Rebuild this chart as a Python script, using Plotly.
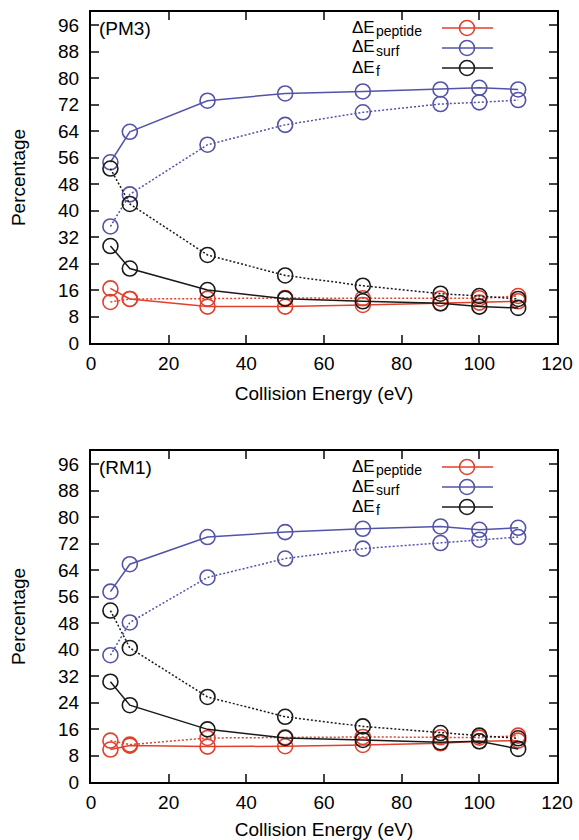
import plotly.graph_objects as go

# ---------------- data ----------------
energy = [5, 10, 30, 50, 70, 90, 100, 110]

pm3_peptide_solid = [16.5, 13.3, 11.0, 11.0, 11.5, 12.0, 12.2, 12.6]
pm3_peptide_dotted = [12.4, 13.3, 13.4, 13.6, 13.5, 13.4, 13.5, 14.2]
pm3_surf_solid = [54.6, 63.8, 73.2, 75.4, 76.0, 76.6, 77.1, 76.6]
pm3_surf_dotted = [35.2, 44.9, 59.9, 65.9, 69.7, 72.2, 72.7, 73.4]
pm3_f_solid = [29.3, 22.5, 16.0, 13.4, 12.6, 12.0, 11.0, 10.6]
pm3_f_dotted = [52.7, 42.0, 26.6, 20.4, 17.3, 14.9, 14.2, 13.3]

rm1_peptide_solid = [9.8, 11.0, 10.7, 10.8, 11.2, 11.7, 12.3, 12.5]
rm1_peptide_dotted = [12.5, 11.3, 13.3, 13.5, 13.6, 13.5, 13.4, 14.0]
rm1_surf_solid = [57.5, 65.8, 74.0, 75.5, 76.5, 77.2, 76.2, 76.8]
rm1_surf_dotted = [38.3, 48.2, 61.8, 67.5, 70.5, 72.2, 73.2, 74.0]
rm1_f_solid = [30.3, 23.2, 15.9, 13.3, 12.7, 12.0, 12.3, 10.0]
rm1_f_dotted = [51.8, 40.5, 25.7, 19.7, 16.8, 14.8, 14.0, 13.2]

panel_labels = ["(PM3)", "(RM1)"]
legend_main = "ΔE"
legend_subs = ["peptide", "surf", "f"]
x_ticks = [0, 20, 40, 60, 80, 100, 120]
y_ticks = [0, 8, 16, 24, 32, 40, 48, 56, 64, 72, 80, 88, 96]

RED = "#e2402c"
BLUE = "#5353a8"
BLACK = "#1a1a1a"
colors = [RED, BLUE, BLACK]
FONT = "Liberation Sans, Arial, Helvetica, sans-serif"

panels = [
    [(pm3_peptide_solid, pm3_peptide_dotted), (pm3_surf_solid, pm3_surf_dotted), (pm3_f_solid, pm3_f_dotted)],
    [(rm1_peptide_solid, rm1_peptide_dotted), (rm1_surf_solid, rm1_surf_dotted), (rm1_f_solid, rm1_f_dotted)],
]

fig = go.Figure()
for p, series in enumerate(panels):
    xa = "x" if p == 0 else "x2"
    ya = "y" if p == 0 else "y2"
    for (solid, dotted), c in zip(series, colors):
        for vals, dash in ((dotted, "2px,2px"), (solid, "solid")):
            fig.add_trace(go.Scatter(
                x=energy, y=vals, xaxis=xa, yaxis=ya, mode="lines+markers",
                line=dict(color=c, width=1.5, dash=dash),
                marker=dict(symbol="circle-open", size=15, color=c, line=dict(width=1.6, color=c)),
                showlegend=False, hoverinfo="skip",
            ))

W, H = 579, 840
ml, mr, mt, mb = 91, 22, 12, 58
plot_h = H - mt - mb
panel_h = 331
d_top = [(plot_h - panel_h) / plot_h, 1.0]
d_bot = [0.0, panel_h / plot_h]

def xaxis(anchor):
    return dict(anchor=anchor, range=[0, 120], tickvals=x_ticks, ticks="inside", ticklen=8, tickwidth=2,
                showline=True, linewidth=2, linecolor="black", mirror="ticks", showgrid=False, zeroline=False,
                automargin=False,
                tickfont=dict(size=19, color="black", family=FONT), ticklabelstandoff=2,
                title=dict(text="Collision Energy (eV)", font=dict(size=19, color="black", family=FONT), standoff=14))

def yaxis(anchor, dom):
    return dict(anchor=anchor, domain=dom, range=[0, 100], tickvals=y_ticks, ticks="inside", ticklen=8, tickwidth=2,
                showline=True, linewidth=2, linecolor="black", mirror="ticks", showgrid=False, zeroline=False,
                automargin=False,
                tickfont=dict(size=19, color="black", family=FONT), ticklabelstandoff=6,
                title=dict(text="Percentage", font=dict(size=19, color="black", family=FONT), standoff=27))

fig.update_layout(
    width=W, height=H, margin=dict(l=ml, r=mr, t=mt, b=mb, autoexpand=False),
    paper_bgcolor="white", plot_bgcolor="white",
    xaxis=xaxis("y"), yaxis=yaxis("x", d_top),
    xaxis2=xaxis("y2"), yaxis2=yaxis("x2", d_bot),
    font=dict(family=FONT, color="black"),
    showlegend=False,
)

pw = W - ml - mr
shapes, annots = [], []
for p in range(2):
    xr = "x domain" if p == 0 else "x2 domain"
    yr = "y domain" if p == 0 else "y2 domain"
    annots.append(dict(text=panel_labels[p], xref=xr, yref=yr, x=6 / pw, y=1 - 16.5 / panel_h,
                       xanchor="left", yanchor="middle", showarrow=False,
                       font=dict(size=19, color="black", family=FONT)))
    for i, (sub, c) in enumerate(zip(legend_subs, colors)):
        yy = 1 - (16 + 20 * i) / panel_h
        annots.append(dict(text=legend_main, xref=xr, yref=yr, x=(350 - ml) / pw, y=yy, yshift=1,
                           xanchor="left", yanchor="middle", showarrow=False,
                           font=dict(size=17, color="black", family=FONT)))
        annots.append(dict(text=sub, xref=xr, yref=yr, x=(374 - ml) / pw, y=yy, yshift=-3,
                           xanchor="left", yanchor="middle", showarrow=False,
                           font=dict(size=14, color="black", family=FONT)))
        shapes.append(dict(type="line", xref=xr, yref=yr, x0=(442 - ml) / pw, x1=(493 - ml) / pw,
                           y0=yy, y1=yy, line=dict(color=c, width=1.5)))
        cx = (467 - ml) / pw
        rx, ry = 7.5 / pw, 7.5 / panel_h
        shapes.append(dict(type="circle", xref=xr, yref=yr, x0=cx - rx, x1=cx + rx, y0=yy - ry, y1=yy + ry,
                           line=dict(color=c, width=1.6), fillcolor="rgba(0,0,0,0)"))

fig.update_layout(shapes=shapes, annotations=annots)
fig.write_html("out.html", config={"displayModeBar": False},
               post_script="document.body.style.margin='0';document.body.style.overflow='hidden';")
